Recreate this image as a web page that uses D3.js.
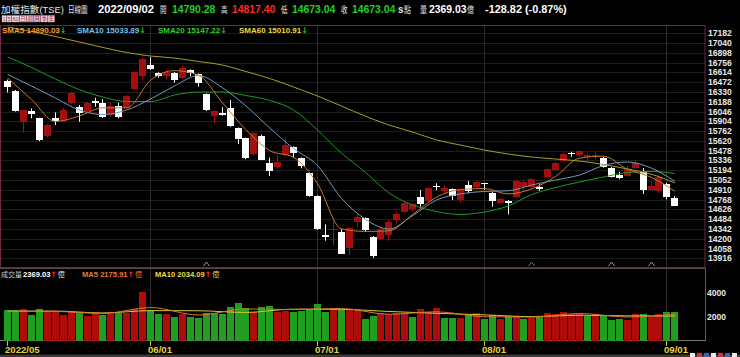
<!DOCTYPE html>
<html><head><meta charset="utf-8">
<script src="https://cdn.jsdelivr.net/npm/d3@7/dist/d3.min.js"></script>
<style>html,body{margin:0;padding:0;background:#000;overflow:hidden}svg{display:block}</style>
</head><body>
<svg id="chart" width="740" height="357"></svg>
<script>
// ---------------- data ----------------
const dates = [
"2022-05-06","2022-05-09","2022-05-10","2022-05-11","2022-05-12","2022-05-13","2022-05-16","2022-05-17","2022-05-18","2022-05-19",
"2022-05-20","2022-05-23","2022-05-24","2022-05-25","2022-05-26","2022-05-27","2022-05-30","2022-05-31",
"2022-06-01","2022-06-02","2022-06-06","2022-06-07","2022-06-08","2022-06-09","2022-06-10","2022-06-13","2022-06-14","2022-06-15",
"2022-06-16","2022-06-17","2022-06-20","2022-06-21","2022-06-22","2022-06-23","2022-06-24","2022-06-27","2022-06-28","2022-06-29","2022-06-30",
"2022-07-01","2022-07-04","2022-07-05","2022-07-06","2022-07-07","2022-07-08","2022-07-11","2022-07-12","2022-07-13","2022-07-14",
"2022-07-15","2022-07-18","2022-07-19","2022-07-20","2022-07-21","2022-07-22","2022-07-25","2022-07-26","2022-07-27","2022-07-28","2022-07-29",
"2022-08-01","2022-08-02","2022-08-03","2022-08-04","2022-08-05","2022-08-08","2022-08-09","2022-08-10","2022-08-11","2022-08-12",
"2022-08-15","2022-08-16","2022-08-17","2022-08-18","2022-08-19","2022-08-22","2022-08-23","2022-08-24","2022-08-25","2022-08-26",
"2022-08-29","2022-08-30","2022-08-31","2022-09-01","2022-09-02"];

const opens = [16494,16349,15899,16054,15948,15691,15957,15909,16166,16117,16054,16204,16175,15992,16131,16093,16369,16567,
16722,16601,16570,16610,16538,16649,16587,16297,15986,16030,16102,15803,15658,15426,15696,15304,15231,15415,15527,15368,15158,
14820,14254,14335,14302,14061,14443,14496,14230,14192,14254,14472,14592,14632,14810,14748,14965,14893,14917,14762,14980,14947,
15005,14868,14729,14748,14810,14941,14955,14955,15086,15208,15333,15445,15415,15382,15401,15376,15226,15121,15111,15222,15188,14917,14893,
14990,14790.28];
const highs = [16510,16360,16076,16093,15955,15873,16035,16102,16337,16141,16189,16247,16228,16175,16175,16290,16630,16823,
16834,16615,16649,16620,16712,16659,16600,16310,16069,16108,16214,15815,15670,15754,15710,15376,15415,15666,15540,15380,15170,
14830,14409,14486,14337,14366,14574,14510,14240,14366,14472,14592,14735,14712,14907,14955,15005,14980,14930,14935,15038,15038,
15010,14880,14791,14762,15055,15053,15080,14990,15220,15316,15449,15463,15485,15440,15459,15390,15240,15173,15256,15343,15227,15028,15125,
15010,14817.40];
const lows = [16323,16045,15739,15948,15615,15670,15851,15900,16150,15899,16040,16117,15953,15980,15948,16080,16355,16494,
16650,16540,16518,16465,16525,16562,16407,16055,15876,15986,15825,15575,15355,15410,15340,15111,15220,15401,15376,15222,14810,
14330,14171,14109,13980,13964,14370,14302,13920,14182,14171,14424,14580,14592,14665,14735,14907,14860,14762,14723,14860,14935,
14907,14665,14719,14552,14795,14907,14932,14897,15075,15196,15320,15391,15391,15318,15353,15232,15090,15063,15100,15212,14849,14910,14868,
14772,14673.04];
const closes = [16407,16054,16069,16006,15623,15851,15909,16069,16311,16030,16166,16170,15967,16127,15971,16272,16616,16809,
16664,16552,16625,16504,16683,16610,16456,16069,16054,16001,15836,15648,15368,15730,15353,15183,15309,15561,15440,15245,14825,
14341,14225,14345,13989,14351,14516,14327,13950,14337,14447,14559,14723,14700,14714,14941,14947,14940,14820,14922,14897,15019,
14990,14748,14781,14714,15042,15019,15067,14932,15208,15304,15430,15435,15474,15415,15420,15245,15100,15077,15208,15295,14917,14970,15100,
14801.86,14673.04];
const volumes = [2540,2540,2600,2125,2600,2400,2400,2125,2400,2400,
2040,2320,2125,2290,2290,2290,2600,4015,2540,2210,
2210,1930,2180,1960,1850,2320,2320,2210,2790,3150,
2680,2400,2790,2875,2400,2460,2375,2490,2650,3070,
2400,2650,2570,2570,2570,1820,2070,2290,2180,2320,
2320,1960,2600,2400,2680,1850,1850,1850,2150,2260,
1790,2150,1790,2015,2015,1790,1900,2070,2290,2180,
2350,2210,2210,2070,2210,2070,1740,1790,1740,2180,
2180,1960,2210,2400,2369.03];

// moving-average lines at sample bars
const smaSampleIdx = [0,3,6,9,12,15,18,21,24,27,30,33,36,39,42,45,48,51,54,57,60,63,66,69,72,75,78,81,84];
const sma5  = [16533,16221,15902,15981,16100,16101,16500,16640,16576,16180,15781,15480,15380,15000,14345,14306,14315,14553,14805,14914,14930,14850,14925,15106,15370,15398,15210,15093,14890.03];
const sma10 = [16584,16417,16243,16069,16003,16069,16228,16417,16569,16395,16127,15807,15510,15263,14791,14486,14341,14537,14762,14850,14886,14896,14980,15053,15125,15263,15314,15227,15033.89];
const sma20 = [16838,16686,16519,16366,16257,16192,16192,16286,16330,16330,16279,16207,16069,15778,15444,15169,14864,14690,14595,14552,14588,14675,14842,14944,15024,15096,15161,15176,15147.22];
const sma60 = [17273,17208,17136,17056,16976,16903,16852,16823,16773,16722,16627,16526,16402,16272,16127,15981,15851,15749,15633,15560,15488,15430,15386,15357,15328,15278,15213,15138,15010.91];

const volSampleIdx = [0,6,12,18,24,30,36,42,48,54,60,66,72,78,84];
const volMa5  = [2450,2425,2257,2747,2126,2630,2580,2668,2186,2392,1980,1952,2248,1960,2175.91];
const volMa10 = [2450,2450,2294,2491,2479,2339,2613,2594,2419,2264,2139,1991,2103,2057,2034.09];

const priceTicks = [17182,17040,16898,16756,16614,16472,16330,16188,16046,15904,15762,15620,15478,15336,15194,15052,14910,14768,14626,14484,14342,14200,14058,13916];
const volTicks = [4000,2000];
const monthTickDates = ["2022-05-06","2022-06-01","2022-07-01","2022-08-01","2022-09-01"];
const monthTickLabels = ["2022/05","06/01","07/01","08/01","09/01"];
const markerDates = ["2022-06-13","2022-08-09","2022-08-23","2022-08-30"];

// ---------------- drawing ----------------
const LAT = "'Liberation Sans', Arial, sans-serif";
const CJK = "'Noto Sans CJK TC','Noto Sans CJK SC',sans-serif";
const DJV = "'DejaVu Sans', sans-serif";
const UP = "#a30f0f", DOWN = "#ffffff";
const VUP = "#ae0b0b", VDN = "#1f9e1f";

const svg = d3.select("#chart");
svg.append("rect").attr("width",740).attr("height",357).attr("fill","#000");

const x = d3.scaleBand().domain(dates).range([3.7, 3.7 + dates.length*7.943]).padding(0);
const cxi = d => Math.floor(x(d) + x.bandwidth()/2);
const y = d3.scaleLinear().domain([13916,17182]).range([258.3,33.3]);
const yv = d3.scaleLinear().domain([0,4000]).range([340.5,292.5]);

// grid
const grid = svg.append("g");
grid.selectAll("line.h").data(priceTicks).join("line")
  .attr("x1",1).attr("x2",705).attr("y1",d=>Math.round(y(d))+0.5).attr("y2",d=>Math.round(y(d))+0.5)
  .attr("stroke","#1d1d1d").attr("stroke-width",1);
grid.selectAll("line.v").data(monthTickDates.slice(1)).join("line")
  .attr("x1",d=>cxi(d)+0.5).attr("x2",d=>cxi(d)+0.5).attr("y1",26).attr("y2",340)
  .attr("stroke","#2c2c2c").attr("stroke-width",1);

// panel borders
svg.append("rect").attr("x",0.5).attr("y",25.5).attr("width",704.5).attr("height",242)
  .attr("fill","none").attr("stroke","#6a2842").attr("stroke-width",1);
svg.append("line").attr("x1",0).attr("x2",705).attr("y1",268.5).attr("y2",268.5).attr("stroke","#5a4450");
svg.append("line").attr("x1",705.5).attr("x2",705.5).attr("y1",268).attr("y2",341).attr("stroke","#6a5060");
svg.append("line").attr("x1",0).attr("x2",706).attr("y1",340.5).attr("y2",340.5).attr("stroke","#7a7a7a");

// markers at bottom of price panel
svg.selectAll("path.mk").data(markerDates).join("path")
  .attr("d",d=>{const c=cxi(d)+0.5;return `M${c-3},266 L${c},262 L${c+3},266`;})
  .attr("fill","none").attr("stroke",(d,i)=>i===1?"#3f8f4f":"#9a9a9a").attr("stroke-width",1);

// clip for price panel
svg.append("clipPath").attr("id","clipP").append("rect").attr("x",1).attr("y",26).attr("width",704).attr("height",241);

// candles
const idx = d3.range(dates.length);
const cg = svg.append("g").attr("clip-path","url(#clipP)");
const isUp = i => closes[i] >= opens[i];
cg.selectAll("line.w").data(idx).join("line")
  .attr("x1",i=>cxi(dates[i])+0.5).attr("x2",i=>cxi(dates[i])+0.5)
  .attr("y1",i=>y(highs[i])).attr("y2",i=>y(lows[i]))
  .attr("stroke",i=>isUp(i)?UP:DOWN).attr("stroke-width",1);
cg.selectAll("rect.b").data(idx).join("rect")
  .attr("x",i=>cxi(dates[i])-3).attr("width",7)
  .attr("y",i=>Math.round(y(Math.max(opens[i],closes[i]))))
  .attr("height",i=>Math.max(1,Math.round(Math.abs(y(opens[i])-y(closes[i])))))
  .attr("fill",i=>isUp(i)?UP:DOWN).attr("shape-rendering","crispEdges");

// SMA lines
const smaLine = d3.line().x((d,k)=>x(dates[smaSampleIdx[k]])+x.bandwidth()/2).y(d=>y(d)).curve(d3.curveMonotoneX);
[[sma60,"#a89e2c"],[sma20,"#1f9a22"],[sma10,"#6f9cbc"],[sma5,"#c8782c"]].forEach(([s,c])=>{
  cg.append("path").attr("d",smaLine(s)).attr("fill","none").attr("stroke",c).attr("stroke-width",1);
});

// volume bars
const vUp = i => i===0 ? closes[0]>=opens[0] : closes[i]>=closes[i-1];
svg.append("g").selectAll("rect").data(idx).join("rect")
  .attr("x",i=>cxi(dates[i])-3).attr("width",7)
  .attr("y",i=>Math.round(yv(volumes[i]))).attr("height",i=>Math.round(yv(0))-Math.round(yv(volumes[i])))
  .attr("fill",i=>vUp(i)?VUP:VDN).attr("shape-rendering","crispEdges");
const volLine = d3.line().x((d,k)=>x(dates[volSampleIdx[k]])+x.bandwidth()/2).y(d=>yv(d)).curve(d3.curveMonotoneX);
svg.append("path").attr("d",volLine(volMa10)).attr("fill","none").attr("stroke","#d6c83a").attr("stroke-width",1);
svg.append("path").attr("d",volLine(volMa5)).attr("fill","none").attr("stroke","#d8782a").attr("stroke-width",1);

// price axis labels
svg.append("g").selectAll("text").data(priceTicks).join("text")
  .attr("x",708).attr("y",d=>y(d)+3).text(d=>d)
  .attr("font-family",LAT).attr("font-weight","bold").attr("font-size",8.6).attr("fill","#e6e6e6");
svg.append("g").selectAll("text").data(volTicks).join("text")
  .attr("x",707).attr("y",d=>yv(d)+3).text(d=>d)
  .attr("font-family",LAT).attr("font-weight","bold").attr("font-size",8.6).attr("fill","#e6e6e6");

// date axis
svg.selectAll("line.dt").data(monthTickDates).join("line")
  .attr("x1",d=>cxi(d)+0.5).attr("x2",d=>cxi(d)+0.5).attr("y1",341).attr("y2",346)
  .attr("stroke","#c9bf3c");
svg.selectAll("text.dl").data(monthTickDates).join("text")
  .attr("x",d=>cxi(d)-2).attr("y",353).text((d,i)=>monthTickLabels[i])
  .attr("font-family",LAT).attr("font-weight","bold").attr("font-size",9.6).attr("fill","#e2d640");

// bottom strip
svg.append("rect").attr("x",0).attr("y",354.5).attr("width",740).attr("height",3).attr("fill","#3a3a3a");
[["#e8e8f0",690],["#d03040",697],["#4060c0",704],["#e8e8f0",711],["#d03040",718],["#4060c0",725],["#e8e8f0",732]].forEach(([c,px])=>{
  svg.append("rect").attr("x",px).attr("y",353).attr("width",5).attr("height",4).attr("fill",c);
});

// ---------------- header ----------------
function T(xp, yp, s, fill, size, fam, bold, len){
  const t = svg.append("text").attr("x",xp).attr("y",yp).text(s).attr("fill",fill).attr("font-size",size)
    .attr("font-family",fam).attr("font-weight",bold?"bold":"normal");
  if(len) t.attr("textLength",len).attr("lengthAdjust","spacingAndGlyphs");
  return t;
}
const n = dates.length-1;
const chg = closes[n]-closes[n-1];
const pct = chg/closes[n-1]*100;
const f2 = v => v.toFixed(2);
const tt = T(1,13,"加權指數","#e4e4e4",9.6,CJK,false);
tt.append("tspan").text("(TSE)").attr("font-family",LAT).attr("font-size",9.4);
T(68,13,"日線圖","#e4e4e4",9,CJK,false,19.5);
T(98,13,dates[n].replace(/-/g,"/"),"#ffffff",11.2,LAT,true);
T(160,13,"開","#e4e4e4",9,CJK,false,6.5);
T(172,13,f2(opens[n]),"#22d022",10.4,LAT,true);
T(221,13,"高","#e4e4e4",9,CJK,false,6.5);
T(232,13,f2(highs[n]),"#ff2a2a",10.4,LAT,true);
T(281,13,"低","#e4e4e4",9,CJK,false,6.5);
T(292,13,f2(lows[n]),"#22d022",10.4,LAT,true);
T(341,13,"收","#e4e4e4",9,CJK,false,6.5);
T(352,13,f2(closes[n]),"#22d022",10.4,LAT,true);
T(398,13,"s","#e4e4e4",10,LAT,true);
T(404,13,"點","#e4e4e4",9,CJK,false,7);
T(420,13,"量","#e4e4e4",9,CJK,false,7);
T(429,13,f2(volumes[n]),"#ffffff",10.4,LAT,true);
T(467,13,"億","#e4e4e4",9,CJK,false,7);
T(485,13,`${f2(chg)} (${f2(pct)}%)`,"#ffffff",10.9,LAT,true);

// period buttons
const btns = ["1","5","60","日","週","月","季","年"];
const bw = [5,5,8,7,7,7,7,7];
let bx = 2;
btns.forEach((b,i)=>{
  svg.append("rect").attr("x",bx).attr("y",15.5).attr("width",bw[i]-0.5).attr("height",6.5)
    .attr("fill",i===5?"#c8c0d8":"#eadde4").attr("stroke","#b09098").attr("stroke-width",0.4);
  svg.append("text").attr("x",bx+bw[i]/2-0.2).attr("y",21.3).attr("text-anchor","middle").text(b)
    .attr("font-size",5.5).attr("font-family",/[0-9]/.test(b)?LAT:CJK).attr("fill","#b02840");
  bx += bw[i];
});

// legends
function legend(xp, yp, parts, size){
  const t = svg.append("text").attr("x",xp).attr("y",yp).attr("font-size",size||8).attr("font-family",LAT).attr("font-weight","bold");
  parts.forEach(([s,c,fam])=>t.append("tspan").text(s).attr("fill",c).attr("font-family",fam||LAT));
  return t;
}
const dn = "#22c022", upA = "#ff2a2a";
legend(2,33,[["SMA5 "+f2(sma5[sma5.length-1]),"#f0a030"],["↓",dn,DJV]]);
legend(77,33,[["SMA10 "+f2(sma10[sma10.length-1]),"#72c0ee"],["↓",dn,DJV]]);
legend(158,33,[["SMA20 "+f2(sma20[sma20.length-1]),"#2fd22f"],["↓",dn,DJV]]);
legend(239,33,[["SMA60 "+f2(sma60[sma60.length-1]),"#ecdc40"],["↓",dn,DJV]]);

// volume legend
T(1,277,"成交量","#d0d0d0",7,CJK,false);
function volLegend(xp, parts, unitColor){
  const t = legend(xp,277,parts,7.6);
  const w = t.node().getComputedTextLength();
  T(xp+w+1,277,"億",unitColor,7.2,CJK,false);
}
volLegend(23,[[f2(volumes[n]),"#ffffff"],["↑",upA,DJV]],"#e0e0e0");
volLegend(82,[["MA5 "+f2(volMa5[volMa5.length-1]),"#ee7a2a"],["↑",upA,DJV]],"#ee7a2a");
volLegend(155,[["MA10 "+f2(volMa10[volMa10.length-1]),"#ecdc40"],["↑",upA,DJV]],"#ecdc40");
</script>
</body></html>
